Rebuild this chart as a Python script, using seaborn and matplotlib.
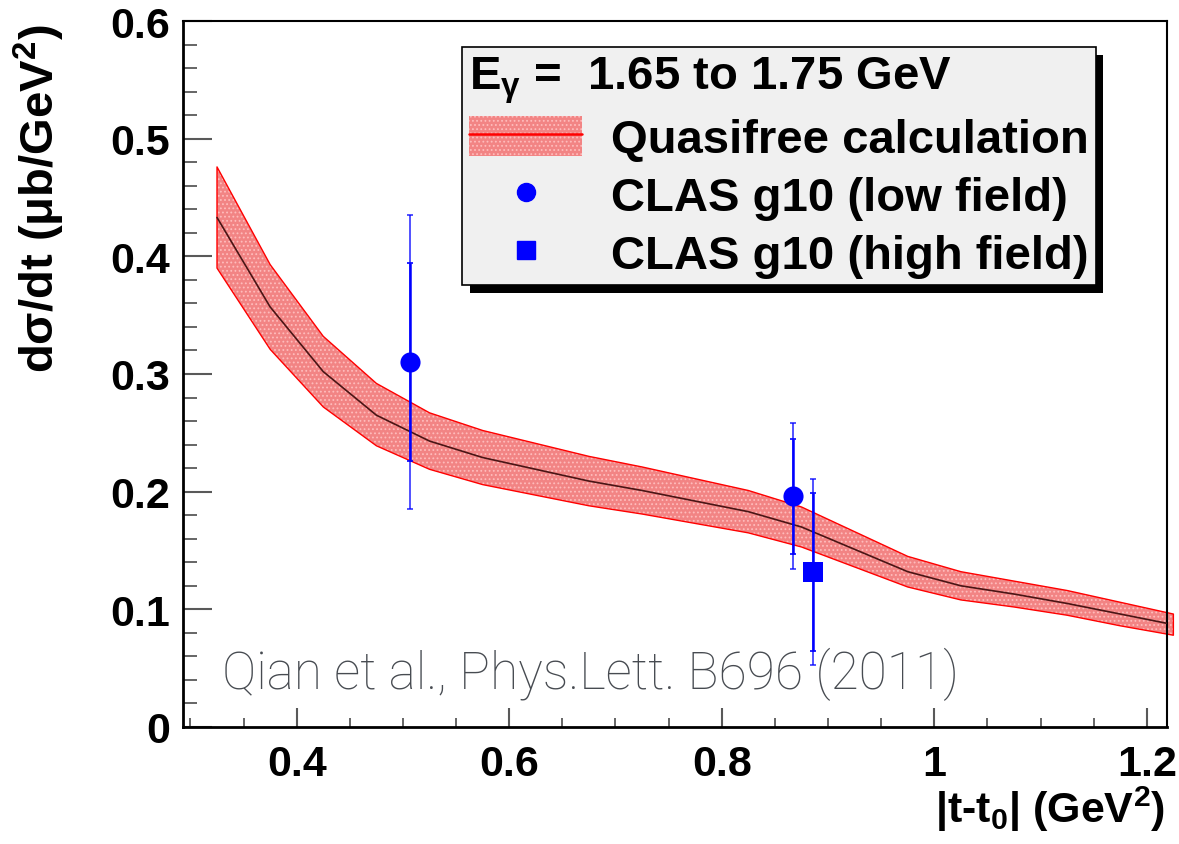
import numpy as np
import pandas as pd
import matplotlib
matplotlib.use("Agg")
import matplotlib.pyplot as plt
import seaborn as sns
from matplotlib import font_manager
from matplotlib.patches import Patch
from matplotlib.lines import Line2D
from matplotlib.ticker import MultipleLocator, FixedLocator, FuncFormatter

# ---------------- data ----------------
t_grid = [0.325, 0.375, 0.425, 0.475, 0.525, 0.575, 0.625, 0.675, 0.725, 0.775,
          0.825, 0.875, 0.925, 0.975, 1.025, 1.075, 1.125, 1.175, 1.225]
calc_center = [0.433, 0.357, 0.302, 0.265, 0.243, 0.229, 0.219, 0.209, 0.201, 0.192,
               0.183, 0.170, 0.151, 0.132, 0.120, 0.113, 0.105, 0.096, 0.087]
calc_upper = [0.476, 0.393, 0.332, 0.292, 0.267, 0.252, 0.241, 0.230, 0.221, 0.211,
              0.201, 0.187, 0.166, 0.145, 0.132, 0.124, 0.116, 0.106, 0.096]
calc_lower = [0.390, 0.321, 0.272, 0.239, 0.219, 0.206, 0.197, 0.188, 0.181, 0.173,
              0.165, 0.153, 0.136, 0.119, 0.108, 0.102, 0.095, 0.086, 0.078]

low_t = [0.507, 0.867]
low_y = [0.310, 0.196]
low_stat = [0.084, 0.049]
low_tot = [0.125, 0.062]

high_t = [0.886]
high_y = [0.132]
high_stat = [0.067]
high_tot = [0.079]

y_ticks = [0.0, 0.1, 0.2, 0.3, 0.4, 0.5, 0.6]
x_ticks = [0.4, 0.6, 0.8, 1.0, 1.2]

legend_title = "E$_\\mathrm{γ}$ =  1.65 to 1.75 GeV"
labels = ["Quasifree calculation", "CLAS g10 (low field)", "CLAS g10 (high field)"]
note = "Qian et al., Phys.Lett. B696 (2011)"

# ---------------- style ----------------
sns.set_theme(style="ticks")
plt.rcParams["font.family"] = ["Liberation Sans", "DejaVu Sans"]
plt.rcParams["font.weight"] = "bold"
plt.rcParams["text.color"] = "black"
plt.rcParams["axes.labelcolor"] = "black"
plt.rcParams["xtick.labelcolor"] = "black"
plt.rcParams["ytick.labelcolor"] = "black"
plt.rcParams["mathtext.fontset"] = "custom"
plt.rcParams["mathtext.rm"] = "Liberation Sans"
plt.rcParams["mathtext.bf"] = "Liberation Sans:bold"
plt.rcParams["mathtext.it"] = "Liberation Sans:italic"
plt.rcParams["hatch.linewidth"] = 0.8

installed = {f.name for f in font_manager.fontManager.ttflist}
if "Liberation Sans Narrow" in installed:
    xlab_family, xlab_size = ["Liberation Sans Narrow", "Liberation Sans"], 37
else:
    xlab_family, xlab_size = ["Liberation Sans", "DejaVu Sans"], 31

BLUE = "#0000ff"
RED = "#ff0000"
BAND = "#f28484"
DOTS = "#ffbcbc"

fig = plt.figure(figsize=(11.79, 8.45), dpi=100)
ax = fig.add_axes([183 / 1179, 117 / 845, 984 / 1179, 706 / 845])

calc = pd.DataFrame({"t": t_grid, "c": calc_center, "lo": calc_lower, "hi": calc_upper})

# stippled band: pink fill with light dots, red outline
ax.fill_between(calc["t"], calc["lo"], calc["hi"], facecolor=BAND, edgecolor=DOTS,
                hatch="....", linewidth=0, zorder=2, clip_on=False)
ax.fill_between(calc["t"], calc["lo"], calc["hi"], facecolor="none", edgecolor=RED,
                linewidth=1.0, zorder=2.1, clip_on=False)
sns.lineplot(data=calc, x="t", y="c", color="#4a1515", linewidth=1.2, ax=ax, zorder=3)

# error bars (total, then statistical)
ax.errorbar(low_t, low_y, yerr=low_tot, fmt="none", ecolor=BLUE, elinewidth=1.2,
            capsize=2.2, capthick=1.2, zorder=4, alpha=0.8)
ax.errorbar(low_t, low_y, yerr=low_stat, fmt="none", ecolor=BLUE, elinewidth=1.8,
            capsize=2.2, capthick=1.2, zorder=4)
ax.errorbar(high_t, high_y, yerr=high_tot, fmt="none", ecolor=BLUE, elinewidth=1.2,
            capsize=2.2, capthick=1.2, zorder=4, alpha=0.8)
ax.errorbar(high_t, high_y, yerr=high_stat, fmt="none", ecolor=BLUE, elinewidth=1.8,
            capsize=2.2, capthick=1.2, zorder=4)

pts_low = pd.DataFrame({"t": low_t, "y": low_y})
pts_high = pd.DataFrame({"t": high_t, "y": high_y})
sns.scatterplot(data=pts_low, x="t", y="y", marker="o", s=210, color=BLUE,
                edgecolor=BLUE, linewidth=0, ax=ax, zorder=5)
sns.scatterplot(data=pts_high, x="t", y="y", marker="s", s=210, color=BLUE,
                edgecolor=BLUE, linewidth=0, ax=ax, zorder=5)

# ---------------- axes ----------------
ax.set_xlim(0.293, 1.219)
ax.set_ylim(0.0, 0.6)
ax.xaxis.set_major_locator(FixedLocator(x_ticks))
ax.xaxis.set_minor_locator(MultipleLocator(0.05))
ax.yaxis.set_major_locator(FixedLocator(y_ticks))
ax.yaxis.set_minor_locator(MultipleLocator(0.02))
ax.xaxis.set_major_formatter(FuncFormatter(lambda v, p: f"{v:g}"))
ax.yaxis.set_major_formatter(FuncFormatter(lambda v, p: "0" if abs(v) < 1e-9 else f"{v:.1f}"))

ax.tick_params(axis="both", which="both", direction="in", color="0.35",
               labelcolor="black", top=False, right=False)
ax.tick_params(axis="y", which="major", length=21, width=1.5, pad=9, labelsize=31)
ax.tick_params(axis="y", which="minor", length=10, width=1.3)
ax.tick_params(axis="x", which="major", length=14, width=1.5, pad=12, labelsize=31)
ax.tick_params(axis="x", which="minor", length=6.5, width=1.3)
for lab in ax.get_xticklabels() + ax.get_yticklabels():
    lab.set_fontweight("bold")

for side in ["top", "right"]:
    ax.spines[side].set_linewidth(1.5)
    ax.spines[side].set_color("black")
for side in ["left", "bottom"]:
    ax.spines[side].set_linewidth(2.0)
    ax.spines[side].set_color("black")

ax.set_xlabel("|t-t$_\\mathbf{0}$| (GeV$^\\mathbf{2}$)", fontsize=xlab_size,
              fontweight="bold", family=xlab_family, loc="right")
ax.xaxis.set_label_coords(0.998, -0.08)
ax.xaxis.label.set_verticalalignment("top")
ax.set_ylabel("dσ/dt (μb/GeV$^\\mathbf{2}$)", fontsize=34, fontweight="bold", loc="top")
ax.yaxis.set_label_coords(-0.118, 0.997)

ax.text((222 - 183) / 984, (728 - 689) / 706, note, transform=ax.transAxes,
        color="#474b51", fontsize=37, family=["Roboto", "DejaVu Sans"], fontweight="light",
        va="baseline", ha="left", zorder=6)

# ---------------- legend ----------------
band_handle = (Patch(facecolor=BAND, edgecolor=DOTS, hatch="....", linewidth=0),
               Line2D([], [], color=RED, linewidth=1.8))
circ_handle = Line2D([], [], marker="o", color=BLUE, linestyle="none", markersize=13)
sq_handle = Line2D([], [], marker="s", color=BLUE, linestyle="none", markersize=13)

leg = ax.legend([band_handle, circ_handle, sq_handle], labels,
                title=legend_title, alignment="left",
                loc="upper left", bbox_to_anchor=((462 - 183) / 984, (728 - 48) / 706),
                borderaxespad=0, borderpad=0.15, frameon=True, fancybox=False,
                framealpha=1, facecolor="#f0f0f0", edgecolor="black",
                prop={"family": "Liberation Sans", "weight": "bold", "size": 34},
                title_fontproperties={"family": "Liberation Sans", "weight": "bold", "size": 34},
                handlelength=2.4, handleheight=0.9, handletextpad=0.6, labelspacing=0.25,
                shadow={"ox": 5.5, "oy": -6, "facecolor": "black", "edgecolor": "none",
                        "alpha": 1})
leg.get_frame().set_linewidth(1.2)
leg.set_zorder(10)

fig.savefig("out.png", dpi=100)
